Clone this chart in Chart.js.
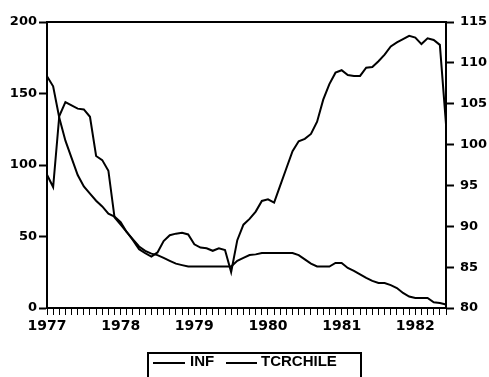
<!DOCTYPE html>
<html>
<head>
<meta charset="utf-8">
<script src="https://cdn.jsdelivr.net/npm/chart.js@4"></script>
<style>
  html, body { margin: 0; padding: 0; background: #fff; }
  #wrap { width: 489px; height: 377px; }
</style>
</head>
<body>
<div id="wrap"><canvas id="chart" width="489" height="377"></canvas></div>
<script>
// monthly series, 1977:01 - 1982:06
const years = ['1977', '1978', '1979', '1980', '1981', '1982'];
const monthsInLastYear = 6;

// INF, left axis
const inf = [
  162, 155, 133, 117, 105, 93, 85, 80, 75, 71, 66, 64,
  60, 53, 48, 43, 40, 38, 37, 35, 33, 31, 30, 29,
  29, 29, 29, 29, 29, 29, 29, 33, 35, 37, 37.5, 38.5,
  38.5, 38.5, 38.5, 38.5, 38.5, 37, 34, 31, 29, 29, 29, 31.5,
  31.5, 28, 26, 23.5, 21, 19, 17.5, 17.5, 16, 14, 10.5, 8,
  7, 7, 7, 4, 3.5, 2.5
];

// TCRCHILE, right axis
const tcrchile = [
  96.3, 94.8, 103.5, 105.2, 104.8, 104.4, 104.3, 103.4, 98.6, 98.1, 96.8, 91.1,
  90.2, 89.3, 88.3, 87.2, 86.7, 86.3, 86.8, 88.2, 88.9, 89.1, 89.2, 89.0,
  87.8, 87.4, 87.3, 87.0, 87.3, 87.1, 84.4, 88.3, 90.2, 90.9, 91.8, 93.1,
  93.3, 92.9, 95.0, 97.1, 99.2, 100.4, 100.7, 101.3, 102.8, 105.5, 107.4, 108.8,
  109.1, 108.5, 108.4, 108.4, 109.4, 109.5, 110.2, 111.0, 112.0, 112.5, 112.9, 113.3,
  113.1, 112.3, 113.0, 112.8, 112.2, 102.5
];

const months = [];
years.forEach((y, k) => {
  const n = k === years.length - 1 ? monthsInLastYear : 12;
  for (let m = 1; m <= n; m++) months.push(y + ':' + String(m).padStart(2, '0'));
});

const tickFont = { family: 'DejaVu Sans', weight: 'bold', size: 13 };

const frameAndLegend = {
  id: 'frameAndLegend',
  afterDraw(chart) {
    const { ctx, chartArea: a } = chart;
    ctx.save();
    ctx.strokeStyle = '#000';
    ctx.lineWidth = 2;
    ctx.beginPath();
    ctx.moveTo(a.left, a.top);
    ctx.lineTo(a.right, a.top);
    ctx.stroke();

    // legend box at the bottom
    ctx.strokeRect(148, 353, 213, 40);
    ctx.fillStyle = '#000';
    ctx.font = 'bold 15px "Liberation Sans"';
    ctx.textBaseline = 'middle';
    const items = [
      { x1: 153, x2: 185, tx: 190 },
      { x1: 226, x2: 257, tx: 261 }
    ];
    chart.data.datasets.forEach((ds, i) => {
      const it = items[i];
      ctx.lineWidth = 2;
      ctx.beginPath();
      ctx.moveTo(it.x1, 363);
      ctx.lineTo(it.x2, 363);
      ctx.stroke();
      ctx.fillText(ds.label, it.tx, 362);
    });
    ctx.restore();
  }
};

new Chart(document.getElementById('chart'), {
  type: 'line',
  data: {
    labels: months,
    datasets: [
      { label: 'INF', data: inf, yAxisID: 'y' },
      { label: 'TCRCHILE', data: tcrchile, yAxisID: 'y2' }
    ]
  },
  options: {
    responsive: false,
    animation: false,
    layout: { padding: { top: 22, left: 0, right: 0, bottom: 0 } },
    elements: {
      line: { borderColor: '#000', borderWidth: 2, tension: 0 },
      point: { radius: 0 }
    },
    plugins: { legend: { display: false }, tooltip: { enabled: false } },
    scales: {
      x: {
        offset: false,
        grid: { drawOnChartArea: false, tickLength: 7, tickColor: '#000', tickWidth: 1 },
        border: { color: '#000', width: 2 },
        ticks: {
          autoSkip: false, maxRotation: 0, minRotation: 0, padding: 3,
          color: '#000', font: { family: 'DejaVu Sans', weight: 'bold', size: 14 },
          callback: (v, i) => (i % 12 === 0 ? years[i / 12] : '')
        },
        afterFit: s => { s.height = 69; }
      },
      y: {
        position: 'left',
        min: 0, max: 200,
        grid: { drawOnChartArea: false, tickLength: 8, tickColor: '#000', tickWidth: 2 },
        border: { color: '#000', width: 2 },
        ticks: { stepSize: 50, padding: 2, color: '#000', font: tickFont },
        afterFit: s => { s.width = 47; }
      },
      y2: {
        position: 'right',
        min: 80, max: 115,
        grid: { drawOnChartArea: false, tickLength: 8, tickColor: '#000', tickWidth: 2 },
        border: { color: '#000', width: 2 },
        ticks: { stepSize: 5, padding: 6, color: '#000', font: tickFont },
        afterFit: s => { s.width = 43; }
      }
    }
  },
  plugins: [frameAndLegend]
});
</script>
</body>
</html>
